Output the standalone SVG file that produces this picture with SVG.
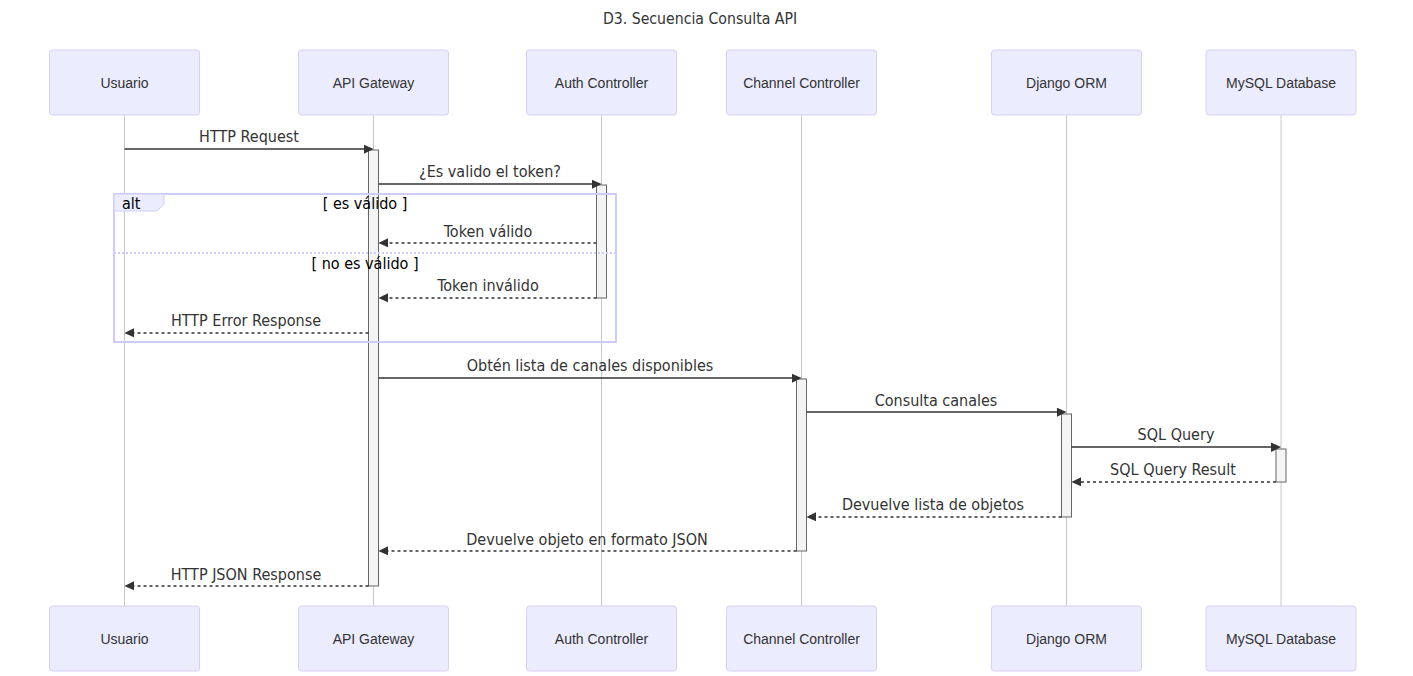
<svg xmlns="http://www.w3.org/2000/svg" width="1413" height="676" viewBox="0 0 1413 676">
<style>
.bg{fill:#ffffff}
.actor{fill:#ececff;stroke:#d6d0f5;stroke-width:1}
.atext{font-family:"Liberation Sans",Arial,sans-serif;font-size:14px;fill:#333;text-anchor:middle;dominant-baseline:central}
.life{stroke:#c8c8c8;stroke-width:1}
.act{fill:#f4f4f4;stroke:#666;stroke-width:1}
.msg{stroke:#333;stroke-width:1.5;fill:none}
.dash{stroke-dasharray:3,3}
.mtext{font-family:"DejaVu Sans Condensed","Liberation Sans",sans-serif;font-size:16px;fill:#333;text-anchor:middle}
.title{font-family:"DejaVu Sans Condensed","Liberation Sans",sans-serif;font-size:15.7px;fill:#333;text-anchor:middle}
.frame{fill:none;stroke:#ccccff;stroke-width:2}
.sep{stroke:#ccccff;stroke-width:2;stroke-dasharray:2,2;fill:none}
.lbox{fill:#ececff;stroke:#ccccff;stroke-width:1}
.ltext{font-family:"DejaVu Sans Condensed","Liberation Sans",sans-serif;font-size:16px;fill:#000}
.ctext{font-family:"DejaVu Sans Condensed","Liberation Sans",sans-serif;font-size:16px;fill:#000;text-anchor:middle}
</style>
<defs>
<marker id="arrowhead" refX="7.9" refY="5" markerUnits="userSpaceOnUse" markerWidth="12" markerHeight="12" orient="auto-start-reverse"><path d="M -1 0 L 10 5 L 0 10 z" fill="#333"/></marker>
</defs>
<rect class="bg" x="0" y="0" width="1413" height="676"/>
<text class="title" x="700" y="24">D3. Secuencia Consulta API</text>

<g id="lifelines">
<line class="life" x1="124.5" y1="115" x2="124.5" y2="606"/>
<line class="life" x1="373.5" y1="115" x2="373.5" y2="606"/>
<line class="life" x1="601.5" y1="115" x2="601.5" y2="606"/>
<line class="life" x1="801.5" y1="115" x2="801.5" y2="606"/>
<line class="life" x1="1066.5" y1="115" x2="1066.5" y2="606"/>
<line class="life" x1="1281" y1="115" x2="1281" y2="606"/>
</g>

<g id="usuario"><rect class="actor" x="49.5" y="50" width="150" height="65" rx="3"/><text class="atext" x="124.5" y="82.5">Usuario</text></g>
<g id="apigateway"><rect class="actor" x="298.5" y="50" width="150" height="65" rx="3"/><text class="atext" x="373.5" y="82.5">API Gateway</text></g>
<g id="auth"><rect class="actor" x="526.5" y="50" width="150" height="65" rx="3"/><text class="atext" x="601.5" y="82.5">Auth Controller</text></g>
<g id="channel"><rect class="actor" x="726.5" y="50" width="150" height="65" rx="3"/><text class="atext" x="801.5" y="82.5">Channel Controller</text></g>
<g id="orm"><rect class="actor" x="991.5" y="50" width="150" height="65" rx="3"/><text class="atext" x="1066.5" y="82.5">Django ORM</text></g>
<g id="mysql"><rect class="actor" x="1206" y="50" width="150" height="65" rx="3"/><text class="atext" x="1281" y="82.5">MySQL Database</text></g>

<g id="usuario-bottom"><rect class="actor" x="49.5" y="606" width="150" height="65" rx="3"/><text class="atext" x="124.5" y="638.5">Usuario</text></g>
<g id="apigateway-bottom"><rect class="actor" x="298.5" y="606" width="150" height="65" rx="3"/><text class="atext" x="373.5" y="638.5">API Gateway</text></g>
<g id="auth-bottom"><rect class="actor" x="526.5" y="606" width="150" height="65" rx="3"/><text class="atext" x="601.5" y="638.5">Auth Controller</text></g>
<g id="channel-bottom"><rect class="actor" x="726.5" y="606" width="150" height="65" rx="3"/><text class="atext" x="801.5" y="638.5">Channel Controller</text></g>
<g id="orm-bottom"><rect class="actor" x="991.5" y="606" width="150" height="65" rx="3"/><text class="atext" x="1066.5" y="638.5">Django ORM</text></g>
<g id="mysql-bottom"><rect class="actor" x="1206" y="606" width="150" height="65" rx="3"/><text class="atext" x="1281" y="638.5">MySQL Database</text></g>

<g id="activations">
<rect class="act" x="368.5" y="150" width="10" height="436"/>
<rect class="act" x="596.5" y="185" width="10" height="113"/>
<rect class="act" x="796.5" y="379" width="10" height="172"/>
<rect class="act" x="1061.5" y="414" width="10" height="103"/>
<rect class="act" x="1276" y="449" width="10" height="33"/>
</g>

<g id="alt-frame">
<rect class="frame" x="114" y="194" width="502" height="148"/>
<path class="lbox" d="M114,194 L164,194 L164,204 L157,211 L114,211 Z"/>
<text class="ltext" x="122" y="209">alt</text>
<text class="ctext" x="365" y="209">[ es válido ]</text>
<line class="sep" x1="114" y1="253" x2="616" y2="253"/>
<text class="ctext" x="365" y="269">[ no es válido ]</text>
</g>

<g id="connectors">
<line class="msg" x1="124.5" y1="149" x2="371.5" y2="149" marker-end="url(#arrowhead)"/>
<text class="mtext" x="249" y="142">HTTP Request</text>

<line class="msg" x1="378.5" y1="184" x2="599.5" y2="184" marker-end="url(#arrowhead)"/>
<text class="mtext" x="490" y="177">¿Es valido el token?</text>

<line class="msg dash" x1="596.5" y1="243" x2="380.5" y2="243" marker-end="url(#arrowhead)"/>
<text class="mtext" x="488" y="237">Token válido</text>

<line class="msg dash" x1="596.5" y1="298" x2="380.5" y2="298" marker-end="url(#arrowhead)"/>
<text class="mtext" x="488" y="291">Token inválido</text>

<line class="msg dash" x1="368.5" y1="333" x2="126.5" y2="333" marker-end="url(#arrowhead)"/>
<text class="mtext" x="246" y="326">HTTP Error Response</text>

<line class="msg" x1="378.5" y1="378" x2="799.5" y2="378" marker-end="url(#arrowhead)"/>
<text class="mtext" x="590" y="371">Obtén lista de canales disponibles</text>

<line class="msg" x1="806.5" y1="412" x2="1064.5" y2="412" marker-end="url(#arrowhead)"/>
<text class="mtext" x="936" y="406">Consulta canales</text>

<line class="msg" x1="1071.5" y1="447" x2="1279" y2="447" marker-end="url(#arrowhead)"/>
<text class="mtext" x="1176" y="440">SQL Query</text>

<line class="msg dash" x1="1276" y1="482" x2="1073.5" y2="482" marker-end="url(#arrowhead)"/>
<text class="mtext" x="1173" y="475">SQL Query Result</text>

<line class="msg dash" x1="1061.5" y1="517" x2="808.5" y2="517" marker-end="url(#arrowhead)"/>
<text class="mtext" x="933" y="510">Devuelve lista de objetos</text>

<line class="msg dash" x1="796.5" y1="551" x2="380.5" y2="551" marker-end="url(#arrowhead)"/>
<text class="mtext" x="587" y="545">Devuelve objeto en formato JSON</text>

<line class="msg dash" x1="368.5" y1="586" x2="126.5" y2="586" marker-end="url(#arrowhead)"/>
<text class="mtext" x="246" y="580">HTTP JSON Response</text>
</g>
</svg>
